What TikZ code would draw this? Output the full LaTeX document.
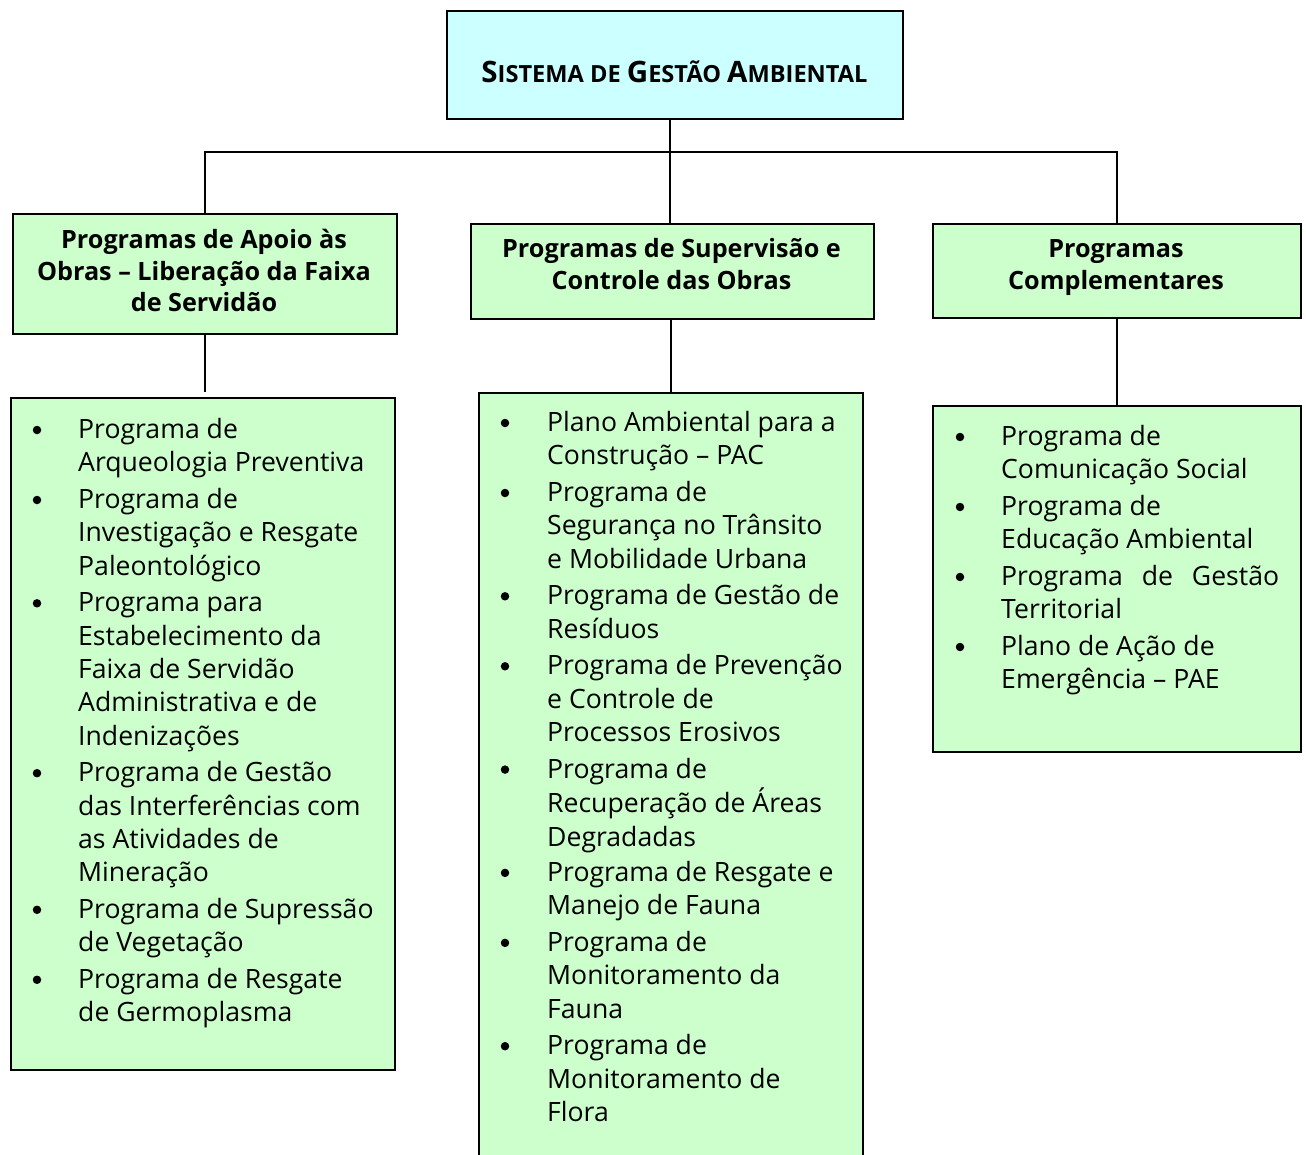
\documentclass[tikz,border=0pt]{standalone}
\usepackage{fontspec}
\setmainfont{Open Sans}
\definecolor{cyanfill}{HTML}{CCFFFF}
\definecolor{greenfill}{HTML}{CCFFCC}
\newcommand\bodyfont{\fontsize{26.6}{33.3}\selectfont}
\newcommand\headfont{\fontsize{25.2}{31.5}\selectfont\bfseries}
\newcommand\tbig{\fontsize{29.5}{30}\selectfont}
\newcommand\tsm{\fontsize{23.6}{30}\selectfont}
\tikzset{
  box/.style={draw=black, line width=2.2pt, inner sep=0pt, anchor=north west},
  greenbox/.style={box, fill=greenfill},
  conn/.style={draw=black, line width=2pt},
  itemtext/.style={anchor=base west, inner sep=0pt, font=\bodyfont},
  headtext/.style={anchor=base, inner sep=0pt, font=\headfont},
  bulletdot/.style={circle, fill=black, inner sep=0pt, minimum size=8.5pt},
}
\newcommand\bitem[5]{%
  \node[bulletdot] (#1b) at (#2,#4-8.5) {};
  \node[itemtext] (#1) at (#3,#4) {\begin{tabular}[t]{@{}l@{}}#5\end{tabular}};}
\begin{document}
\begin{tikzpicture}[x=1pt,y=-1pt]
\useasboundingbox (0,0) rectangle (1306,1155);
% title
\node[box, fill=cyanfill, minimum width=456pt, minimum height=108pt] (top) at (446,10) {};
\node[anchor=base, inner sep=0pt, font=\tsm\bfseries] (toptext) at (674.5,83)
  {{\tbig S}ISTEMA DE {\tbig G}ESTÃO {\tbig A}MBIENTAL};
% headers
\node[greenbox, minimum width=384pt, minimum height=120pt] (hl) at (12,213) {};
\node[headtext] (hlt) at (204,249) {\begin{tabular}[t]{@{}c@{}}Programas de Apoio às\\Obras – Liberação da Faixa\\de Servidão\end{tabular}};
\node[greenbox, minimum width=403pt, minimum height=95pt] (hm) at (470,223) {};
\node[headtext] (hmt) at (671.5,258) {\begin{tabular}[t]{@{}c@{}}Programas de Supervisão e\\Controle das Obras\end{tabular}};
\node[greenbox, minimum width=368pt, minimum height=94pt] (hr) at (932,223) {};
\node[headtext] (hrt) at (1116,258) {\begin{tabular}[t]{@{}c@{}}Programas\\Complementares\end{tabular}};
% list boxes
\node[greenbox, minimum width=384pt, minimum height=672pt] (ll) at (10,397) {};
\node[greenbox, minimum width=384pt, minimum height=780pt] (lm) at (478,392) {};
\node[greenbox, minimum width=368pt, minimum height=346pt] (lr) at (932,405) {};
% connectors
\coordinate (bus) at (670,152);
\draw[conn] (top.south -| bus) -- (hm.north -| bus);
\draw[conn] (hl.north) |- (bus) -| (hr.north);
\draw[conn] (hl.south) -- ([yshift=5pt]hl.south |- ll.north);
\draw[conn] (hm.south -| lm.north) -- (lm.north);
\draw[conn] (hr.south) -- (lr.north);
% left items
\bitem{l1}{37}{78}{438.5}{Programa de\\Arqueologia Preventiva}
\bitem{l2}{37}{78}{508.5}{Programa de\\Investigação e Resgate\\Paleontológico}
\bitem{l3}{37}{78}{611.8}{Programa para\\Estabelecimento da\\Faixa de Servidão\\Administrativa e de\\Indenizações}
\bitem{l4}{37}{78}{781.7}{Programa de Gestão\\das Interferências com\\as Atividades de\\Mineração}
\bitem{l5}{37}{78}{918.3}{Programa de Supressão\\de Vegetação}
\bitem{l6}{37}{78}{988.3}{Programa de Resgate\\de Germoplasma}
% middle items
\bitem{m1}{505}{547}{431.5}{Plano Ambiental para a\\Construção – PAC}
\bitem{m2}{505}{547}{501.5}{Programa de\\Segurança no Trânsito\\e Mobilidade Urbana}
\bitem{m3}{505}{547}{604.8}{Programa de Gestão de\\Resíduos}
\bitem{m4}{505}{547}{674.8}{Programa de Prevenção\\e Controle de\\Processos Erosivos}
\bitem{m5}{505}{547}{778.1}{Programa de\\Recuperação de Áreas\\Degradadas}
\bitem{m6}{505}{547}{881.4}{Programa de Resgate e\\Manejo de Fauna}
\bitem{m7}{505}{547}{951.4}{Programa de\\Monitoramento da\\Fauna}
\bitem{m8}{505}{547}{1054.7}{Programa de\\Monitoramento de\\Flora}
% right items
\bitem{r1}{960}{1001}{445.5}{Programa de\\Comunicação Social}
\bitem{r2}{960}{1001}{515.5}{Programa de\\Educação Ambiental}
\bitem{r3}{960}{1001}{585.5}{\hbox to 278pt{Programa\hfill de\hfill Gestão}\\Territorial}
\bitem{r4}{960}{1001}{655.5}{Plano de Ação de\\Emergência – PAE}
\end{tikzpicture}
\end{document}
